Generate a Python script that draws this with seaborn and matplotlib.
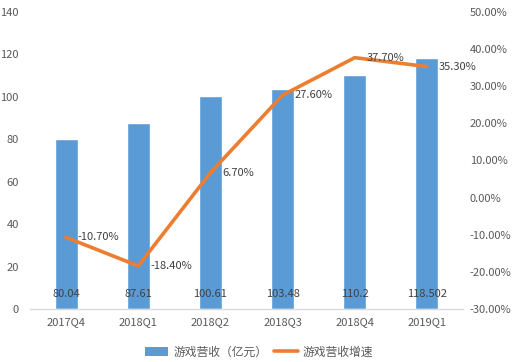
import pandas as pd
import matplotlib.pyplot as plt
import seaborn as sns
from matplotlib.patches import Patch
from matplotlib.lines import Line2D
from matplotlib.ticker import FuncFormatter

sns.set_theme(style="white")
plt.rcParams['font.family'] = ['Noto Sans CJK SC', 'DejaVu Sans']

# Dados do gráfico
trimestres = ['2017Q4', '2018Q1', '2018Q2', '2018Q3', '2018Q4', '2019Q1']
receita = [80.04, 87.61, 100.61, 103.48, 110.2, 118.502]
receita_rotulos = ['80.04', '87.61', '100.61', '103.48', '110.2', '118.502']
crescimento = [-10.70, -18.40, 6.70, 27.60, 37.70, 35.30]

COR_BARRA = '#5B9BD5'
COR_LINHA = '#ED7D31'
COR_TEXTO = '#595959'

df = pd.DataFrame({'trimestre': trimestres, 'receita': receita, 'crescimento': crescimento})

fig = plt.figure(figsize=(5.18, 3.62), dpi=100)
ax = fig.add_axes([30 / 518, 1 - 309 / 362, 433 / 518, 297 / 362])

sns.barplot(data=df, x='trimestre', y='receita', color=COR_BARRA, width=0.32,
            saturation=1, ax=ax)
ax.set_ylim(0, 140)
ax.set_yticks(range(0, 141, 20))
ax.set_xlim(-0.5, 5.5)
ax.set_xlabel('')
ax.set_ylabel('')

# rótulos das barras, perto da base
for i, rot in enumerate(receita_rotulos):
    ax.text(i, 7, rot, ha='center', va='center', fontsize=8, color='#404040')

ax2 = ax.twinx()
sns.lineplot(data=df, x='trimestre', y='crescimento', color=COR_LINHA, linewidth=2.6,
             ax=ax2, sort=False)
ax2.set_ylim(-30, 50)
ax2.set_yticks(range(-30, 51, 10))
ax2.yaxis.set_major_formatter(FuncFormatter(lambda v, p: f'{v:.2f}%'))
ax2.set_ylabel('')

for i, v in enumerate(crescimento):
    ax2.annotate(f'{v:.2f}%', (i, v), xytext=(8.5, 0), textcoords='offset points',
                 ha='left', va='center', fontsize=8, color='#404040')

for a in (ax, ax2):
    for s in a.spines.values():
        s.set_visible(False)
    a.tick_params(length=0, labelsize=8, labelcolor=COR_TEXTO)
    a.grid(False)
ax.spines['bottom'].set_visible(True)
ax.spines['bottom'].set_color('#D9D9D9')
ax.spines['bottom'].set_linewidth(1)
ax.tick_params(axis='x', pad=6)
ax.tick_params(axis='y', pad=8)
ax2.tick_params(axis='y', pad=5)

handles = [Patch(facecolor=COR_BARRA, edgecolor='none'),
           Line2D([0], [0], color=COR_LINHA, linewidth=2.6)]
fig.legend(handles, ['游戏营收（亿元）', '游戏营收增速'], loc='lower center',
           ncol=2, frameon=False, fontsize=8.5, labelcolor=COR_TEXTO,
           bbox_to_anchor=(0.5, -0.02), handlelength=2.0, columnspacing=0.6,
           handletextpad=0.4)

fig.savefig('out.png', dpi=100)
